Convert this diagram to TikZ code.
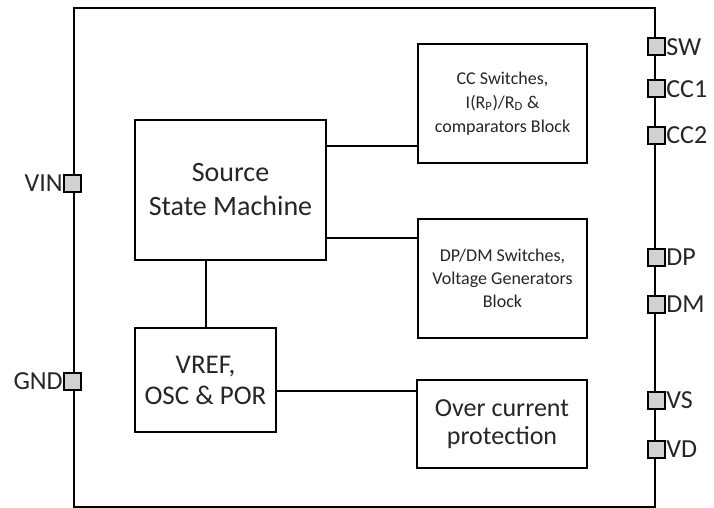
\documentclass[tikz,border=0pt]{standalone}
\usepackage{fontspec}
\setmainfont{Carlito}
\usetikzlibrary{positioning}

\begin{document}
\begin{tikzpicture}[x=1pt,y=-1pt]
    \tikzset{block/.style={rectangle,draw=black,fill=white,line width=2pt,inner sep=2pt,align=center,text=black!85}}
    \tikzset{pad/.style={rectangle,draw=black,fill=black!18,line width=2pt,minimum size=17pt,inner sep=0pt}}
    \tikzset{padlabel/.style={font=\fontsize{26}{26}\selectfont,text=black!85,inner sep=0.5pt}}
    \useasboundingbox (0,0) rectangle (714,508);

    % chip outline
    \node[draw=black,line width=2.2pt,minimum width=581pt,minimum height=499pt,inner sep=0pt] (chip) at (364.5,257.5) {};

    % blocks
    \node[block,minimum width=191pt,minimum height=140pt,font=\fontsize{28}{34}\selectfont] (ssm) at (230.5,190) {Source\\State Machine};
    \node[block,minimum width=169pt,minimum height=119pt,font=\fontsize{18}{24}\selectfont] (cc) at (502.5,103.5) {CC Switches,\\I(R\textsubscript{P})/R\textsubscript{D} \&\\comparators Block};
    \node[block,minimum width=169pt,minimum height=119pt,font=\fontsize{18}{23}\selectfont] (dp) at (502.5,278.5) {DP/DM Switches,\\Voltage Generators\\Block};
    \node[block,minimum width=141pt,minimum height=104pt,font=\fontsize{27}{31}\selectfont] (vref) at (205.5,380) {VREF,\\OSC \& POR};
    \node[block,minimum width=170pt,minimum height=88pt,font=\fontsize{26}{28}\selectfont] (ocp) at (502,424) {Over current\\protection};

    % connections
    \draw[line width=2pt] ([yshift=44pt]ssm.east) -- ([yshift=44pt]ssm.east -| cc.west);
    \draw[line width=2pt] ([yshift=-48pt]ssm.east) -- ([yshift=-48pt]ssm.east -| dp.west);
    \draw[line width=2pt] (vref.north) -- (vref.north |- ssm.south);
    \draw[line width=2pt] ([yshift=-11pt]vref.east) -- ([yshift=-11pt]vref.east -| ocp.west);

    % pads
    \node[pad,label={[padlabel]left:VIN}] (vin) at (chip.west |- 0,183) {};
    \node[pad,label={[padlabel]left:GND}] (gnd) at (chip.west |- 0,381) {};
    \node[pad,label={[padlabel]right:SW}] (sw) at (chip.east |- 0,47) {};
    \node[pad,label={[padlabel]right:CC1}] (cc1) at (chip.east |- 0,89) {};
    \node[pad,label={[padlabel]right:CC2}] (cc2) at (chip.east |- 0,135) {};
    \node[pad,label={[padlabel]right:DP}] (dpin) at (chip.east |- 0,257) {};
    \node[pad,label={[padlabel]right:DM}] (dmin) at (chip.east |- 0,304) {};
    \node[pad,label={[padlabel]right:VS}] (vs) at (chip.east |- 0,400) {};
    \node[pad,label={[padlabel]right:VD}] (vd) at (chip.east |- 0,449) {};
\end{tikzpicture}
\end{document}
